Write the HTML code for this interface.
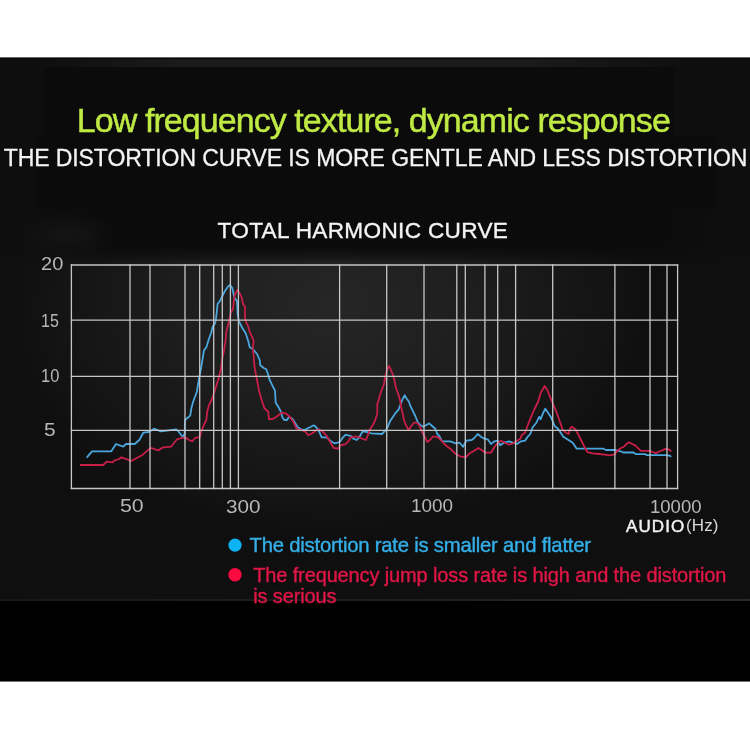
<!DOCTYPE html>
<html><head><meta charset="utf-8"><title>Total Harmonic Curve</title>
<style>
html,body{margin:0;padding:0;background:#fff;}
body{width:750px;height:750px;position:relative;overflow:hidden;font-family:"Liberation Sans",Arial,sans-serif;}
.t{position:absolute;white-space:nowrap;margin:0;line-height:1;}
.ax{font-family:"Liberation Sans",Arial,sans-serif;font-size:19px;color:#b8b8b8;}
svg{position:absolute;left:0;top:0;}
</style></head>
<body>
<svg width="750" height="750" viewBox="0 0 750 750">
<defs>
<radialGradient id="glow" cx="0" cy="0" r="1" gradientUnits="userSpaceOnUse" gradientTransform="translate(330 305) scale(320 230)">
<stop offset="0" stop-color="#262626"/>
<stop offset="0.45" stop-color="#1e1e1e"/>
<stop offset="0.55" stop-color="#1b1b1b"/>
<stop offset="0.75" stop-color="#161616"/>
<stop offset="0.88" stop-color="#131313"/>
<stop offset="1" stop-color="#0f0f0f"/>
</radialGradient>
<linearGradient id="shade" gradientUnits="userSpaceOnUse" x1="0" y1="242" x2="0" y2="264">
<stop offset="0" stop-color="#0e0e0e" stop-opacity="1"/>
<stop offset="1" stop-color="#0e0e0e" stop-opacity="0"/>
</linearGradient>
<linearGradient id="vfadeg" gradientUnits="userSpaceOnUse" x1="0" y1="242" x2="0" y2="264">
<stop offset="0" stop-color="#fff"/>
<stop offset="1" stop-color="#000"/>
</linearGradient>
<mask id="vfade" maskUnits="userSpaceOnUse" x="0" y="200" width="750" height="80"><rect x="0" y="200" width="750" height="80" fill="url(#vfadeg)"/></mask>
<linearGradient id="topstrip" gradientUnits="userSpaceOnUse" x1="40" y1="0" x2="700" y2="0">
<stop offset="0" stop-color="#1a1a1a" stop-opacity="0"/>
<stop offset="0.2" stop-color="#1a1a1a" stop-opacity="1"/>
<stop offset="0.75" stop-color="#1a1a1a" stop-opacity="1"/>
<stop offset="1" stop-color="#1a1a1a" stop-opacity="0"/>
</linearGradient>
<linearGradient id="midshade" gradientUnits="userSpaceOnUse" x1="36" y1="0" x2="716" y2="0">
<stop offset="0" stop-color="#0b0b0b" stop-opacity="0"/>
<stop offset="0.12" stop-color="#0b0b0b" stop-opacity="1"/>
<stop offset="0.9" stop-color="#0b0b0b" stop-opacity="1"/>
<stop offset="1" stop-color="#0b0b0b" stop-opacity="0"/>
</linearGradient>
<radialGradient id="smoke">
<stop offset="0" stop-color="#151515" stop-opacity="1"/>
<stop offset="1" stop-color="#151515" stop-opacity="0"/>
</radialGradient>
<linearGradient id="bandg" gradientUnits="userSpaceOnUse" x1="0" y1="0" x2="750" y2="0">
<stop offset="0" stop-color="#181818"/>
<stop offset="0.5" stop-color="#1e1e1e"/>
<stop offset="1" stop-color="#2a2830"/>
</linearGradient>
</defs>
<rect x="0" y="58" width="750" height="543" fill="#0f0f0f"/>
<rect x="0" y="58" width="750" height="543" fill="url(#glow)"/>
<rect x="0" y="200" width="750" height="64" fill="url(#shade)"/>
<rect x="0" y="58" width="750" height="152" fill="#0e0e0e"/>
<rect x="44" y="67" width="630" height="80" fill="#0b0b0b"/>
<rect x="36" y="137" width="680" height="72" fill="#0b0b0b"/>
<rect x="36" y="209" width="680" height="56" fill="url(#midshade)" mask="url(#vfade)"/>
<ellipse cx="68" cy="234" rx="50" ry="22" fill="url(#smoke)"/>
<rect x="0" y="59" width="750" height="8" fill="url(#topstrip)"/>
<rect x="0" y="57" width="750" height="1" fill="#000" fill-opacity="0.6"/>
<rect x="0" y="58" width="750" height="1" fill="#060606"/>
<rect x="0" y="599" width="750" height="2" fill="url(#bandg)"/>
<rect x="0" y="601" width="750" height="80" fill="#000"/>
<rect x="0" y="681" width="750" height="1" fill="#000" fill-opacity="0.55"/>

<polyline points="86.7,457.6 92.0,451.3 111.3,451.3 116.0,444.0 123.3,446.7 126.0,444.0 134.7,444.0 139.3,440.0 143.3,432.7 148.7,432.0 154.0,428.7 160.7,431.3 165.0,430.9 176.3,429.3 178.3,431.3 183.0,437.3 184.7,433.3 185.0,420.0 188.3,417.3 190.3,415.3 191.4,408.0 193.3,401.3 196.8,392.0 199.2,377.6 200.8,369.6 202.4,360.0 204.0,350.4 206.4,347.2 208.8,339.2 211.2,332.8 212.8,326.4 215.2,323.2 216.0,318.4 216.8,312.0 217.6,304.0 220.0,300.8 222.4,296.0 224.8,291.2 228.0,286.4 230.0,285.0 232.3,288.0 234.3,297.3 237.0,301.3 237.7,314.7 239.0,321.3 242.3,328.0 245.7,333.3 248.3,341.3 249.7,347.3 253.0,349.3 257.0,354.0 259.7,360.0 260.3,365.3 263.7,368.0 266.3,369.3 267.7,373.3 269.7,380.0 272.3,385.3 275.0,390.7 275.7,402.7 278.3,406.7 281.0,412.0 282.3,417.3 284.3,420.0 287.0,420.0 289.0,416.7 292.3,418.7 295.0,422.7 297.7,427.3 301.0,429.3 304.3,430.0 308.3,428.0 311.0,426.7 313.7,425.3 316.3,427.3 319.0,431.3 321.7,437.3 325.7,437.3 328.3,438.7 331.0,441.3 334.3,443.3 337.7,442.7 340.3,441.3 343.0,437.3 345.7,434.7 348.3,435.3 351.0,436.0 353.3,438.7 356.7,440.0 359.3,437.3 362.7,431.3 367.3,432.0 371.3,433.3 382.0,434.0 385.3,430.7 387.3,428.0 390.0,421.3 392.7,417.3 395.3,413.3 398.7,409.3 400.7,404.0 402.7,398.7 404.7,395.3 406.7,398.7 408.7,401.3 410.7,406.7 412.7,410.7 415.3,416.0 418.0,422.7 420.7,425.3 423.3,426.7 426.0,425.3 429.3,423.3 431.3,425.3 435.3,428.7 437.3,434.0 439.3,436.0 442.0,441.3 444.7,441.3 450.3,441.3 455.7,443.3 459.7,442.7 463.0,446.7 466.3,440.7 471.7,440.0 474.3,438.0 477.7,434.0 481.0,436.7 484.3,438.7 487.7,439.3 491.0,444.0 494.3,441.3 497.7,440.7 500.3,445.3 503.7,442.7 509.0,441.3 513.0,442.7 517.0,444.0 521.0,441.3 525.0,440.7 527.7,436.7 530.3,434.0 532.7,427.3 536.0,423.3 539.3,416.7 540.7,419.3 542.7,414.0 545.3,408.7 548.0,412.7 550.7,416.7 553.3,422.7 554.7,426.0 558.0,428.7 560.7,432.7 563.3,436.7 567.3,439.3 572.7,442.7 576.7,448.7 603.3,448.7 606.0,450.0 615.3,450.0 620.7,451.3 623.3,452.5 633.5,452.5 635.6,454.1 645.2,454.1 646.8,455.2 665.5,455.2 669.7,455.7 671.3,456.8" fill="none" stroke="#4aa6de" stroke-width="1.8" stroke-linejoin="round"/>
<polyline points="80.0,465.0 103.3,465.0 106.7,461.6 112.7,462.4 114.0,460.7 119.3,459.0 121.3,457.3 127.3,459.3 130.7,461.3 135.3,458.7 142.0,455.3 148.7,449.3 151.3,448.0 158.0,450.4 163.3,447.3 171.0,446.7 177.0,439.3 181.7,438.0 185.0,437.3 189.0,440.0 192.3,441.3 195.0,438.0 197.7,437.3 200.0,437.0 201.0,432.0 203.7,425.3 206.3,420.0 207.4,410.7 209.0,405.3 211.5,400.0 214.4,392.0 218.4,379.2 220.8,369.6 222.4,358.4 224.0,350.4 225.6,340.8 226.4,331.2 229.0,321.3 231.0,312.0 233.0,309.3 234.3,297.3 235.7,292.7 237.3,290.0 239.7,293.3 241.7,297.3 243.0,304.0 245.0,306.7 245.0,317.3 246.3,322.7 248.3,326.7 249.7,332.0 252.3,337.3 253.7,341.3 253.0,346.7 253.0,350.7 253.7,356.0 254.3,365.3 255.7,373.3 257.0,380.0 259.0,390.7 261.7,400.0 264.3,408.0 268.3,412.0 269.0,419.3 273.7,418.7 278.3,415.3 281.7,412.7 285.7,413.3 289.7,416.7 293.0,421.3 296.3,428.0 299.0,430.0 301.7,430.0 305.7,432.0 308.3,435.3 312.3,433.3 315.7,430.7 319.0,429.3 323.0,432.0 326.3,435.3 329.7,441.3 333.7,448.0 338.3,448.7 340.3,445.3 345.7,444.0 348.3,441.3 351.0,437.3 354.0,436.7 358.0,436.7 362.0,438.7 366.0,440.0 368.0,434.7 370.0,429.3 372.7,425.3 375.3,420.0 377.3,413.3 377.3,404.0 378.7,400.0 380.0,394.7 382.0,389.3 384.0,384.0 385.3,376.0 387.3,369.3 389.0,366.0 391.3,370.7 393.3,376.0 394.7,381.3 396.0,388.0 398.0,393.3 400.0,400.0 401.3,408.0 402.7,413.3 404.0,420.0 406.0,425.3 408.7,430.0 411.3,426.0 414.0,422.7 416.7,422.7 419.3,425.3 422.0,432.0 424.7,436.7 427.3,442.0 430.0,440.0 432.7,436.7 435.3,436.7 438.0,437.3 440.7,440.0 445.0,444.7 450.3,448.7 455.7,454.0 461.0,456.7 465.7,457.3 469.7,453.3 474.3,450.7 478.3,448.0 481.7,450.0 485.0,452.7 491.0,452.7 494.3,447.3 497.7,442.7 501.0,440.7 505.0,442.7 509.0,444.7 513.0,443.3 517.0,440.7 520.3,438.7 521.7,435.3 525.0,432.7 527.0,427.3 529.0,422.0 531.7,415.3 534.0,410.0 538.0,402.0 540.7,392.7 544.7,386.0 547.3,390.0 550.0,396.7 553.3,404.7 556.7,412.7 560.0,422.0 562.7,430.0 566.0,432.7 568.7,434.0 570.0,428.7 572.0,426.7 575.3,429.3 578.7,435.3 582.0,442.0 584.7,447.3 587.3,452.0 592.7,453.3 599.3,454.0 604.7,454.7 608.7,455.3 614.3,454.7 616.4,452.0 619.6,448.8 623.9,446.7 627.1,443.5 629.2,442.4 632.4,444.0 635.6,445.6 638.3,448.3 640.9,450.9 649.5,450.9 652.7,452.0 655.9,453.1 659.1,451.5 662.3,450.4 665.5,448.8 668.7,449.3 671.3,451.5" fill="none" stroke="#c81e48" stroke-width="1.8" stroke-linejoin="round"/>
<g stroke="#c6c6c6" stroke-width="1.3" fill="none">
<line x1="70.75" y1="265.0" x2="678.25" y2="265.0"/>
<line x1="70.75" y1="320.2" x2="678.25" y2="320.2"/>
<line x1="70.75" y1="376.3" x2="678.25" y2="376.3"/>
<line x1="70.75" y1="430.3" x2="678.25" y2="430.3"/>
<line x1="70.75" y1="488.5" x2="678.25" y2="488.5"/>
<line x1="71.4" y1="264.35" x2="71.4" y2="489.15"/>
<line x1="130" y1="264.35" x2="130" y2="489.15"/>
<line x1="150" y1="264.35" x2="150" y2="489.15"/>
<line x1="185" y1="264.35" x2="185" y2="489.15"/>
<line x1="199.7" y1="264.35" x2="199.7" y2="489.15"/>
<line x1="213.7" y1="264.35" x2="213.7" y2="489.15"/>
<line x1="222.3" y1="264.35" x2="222.3" y2="489.15"/>
<line x1="230.4" y1="264.35" x2="230.4" y2="489.15"/>
<line x1="238.4" y1="264.35" x2="238.4" y2="489.15"/>
<line x1="339.6" y1="264.35" x2="339.6" y2="489.15"/>
<line x1="386.7" y1="264.35" x2="386.7" y2="489.15"/>
<line x1="424" y1="264.35" x2="424" y2="489.15"/>
<line x1="456.8" y1="264.35" x2="456.8" y2="489.15"/>
<line x1="465.3" y1="264.35" x2="465.3" y2="489.15"/>
<line x1="484.9" y1="264.35" x2="484.9" y2="489.15"/>
<line x1="497.7" y1="264.35" x2="497.7" y2="489.15"/>
<line x1="515.6" y1="264.35" x2="515.6" y2="489.15"/>
<line x1="552.7" y1="264.35" x2="552.7" y2="489.15"/>
<line x1="614.9" y1="264.35" x2="614.9" y2="489.15"/>
<line x1="650" y1="264.35" x2="650" y2="489.15"/>
<line x1="667" y1="264.35" x2="667" y2="489.15"/>
<line x1="677.6" y1="264.35" x2="677.6" y2="489.15"/>
</g>
<circle cx="235" cy="545.1" r="6.6" fill="#0cb4f6"/>
<circle cx="235" cy="574.8" r="6.7" fill="#fc0a40"/>
</svg>
<div class="t" style="left:76.8px;top:103.2px;font-size:34px;letter-spacing:-0.93px;color:#bfea44;-webkit-text-stroke:0.45px #bfea44;">Low frequency texture, dynamic response</div>
<div class="t" style="left:3.7px;top:146.8px;font-size:23px;letter-spacing:-0.08px;color:#f4f4f4;-webkit-text-stroke:0.3px #f4f4f4;">THE DISTORTION CURVE IS MORE GENTLE AND LESS DISTORTION</div>
<div class="t" style="left:217.5px;top:220.3px;font-size:22.6px;letter-spacing:0.33px;color:#f4f4f4;-webkit-text-stroke:0.35px #f4f4f4;">TOTAL HARMONIC CURVE</div>
<div class="t ax" id="ax0" style="left:40.94px;top:253.95px;transform:scaleX(1.055);transform-origin:0 0;">20</div>
<div class="t ax" id="ax1" style="left:40.62px;top:310.70px;transform:scaleX(0.842);transform-origin:0 0;">15</div>
<div class="t ax" id="ax2" style="left:40.58px;top:366.00px;transform:scaleX(0.864);transform-origin:0 0;">10</div>
<div class="t ax" id="ax3" style="left:44.48px;top:419.50px;transform:scaleX(1.103);transform-origin:0 0;">5</div>
<div class="t ax" id="ax4" style="left:120.02px;top:496.45px;transform:scaleX(1.123);transform-origin:0 0;">50</div>
<div class="t ax" id="ax5" style="left:225.55px;top:496.80px;transform:scaleX(1.090);transform-origin:0 0;">300</div>
<div class="t ax" id="ax6" style="left:410.80px;top:496.35px;transform:scaleX(0.995);transform-origin:0 0;">1000</div>
<div class="t ax" id="ax7" style="left:650.04px;top:496.55px;transform:scaleX(0.975);transform-origin:0 0;">10000</div>
<div class="t" style="left:626px;top:517.8px;font-size:17px;letter-spacing:1.1px;color:#f2f2f2;-webkit-text-stroke:0.45px #f2f2f2;">AUDIO</div>
<div class="t" style="left:685.9px;top:517.4px;font-size:17px;letter-spacing:0.1px;color:#d8d8d8;"><span style="margin-right:0.2px">(</span>Hz)</div>
<div class="t" style="left:249.5px;top:534.5px;font-size:20.3px;letter-spacing:-0.22px;color:#34aee6;-webkit-text-stroke:0.4px #34aee6;">The distortion rate is smaller and flatter</div>
<div class="t" style="left:253.2px;top:565.3px;font-size:20px;line-height:20.2px;letter-spacing:-0.13px;color:#de1646;-webkit-text-stroke:0.4px #de1646;">The frequency jump loss rate is high and the distortion<br>is serious</div>
</body></html>
